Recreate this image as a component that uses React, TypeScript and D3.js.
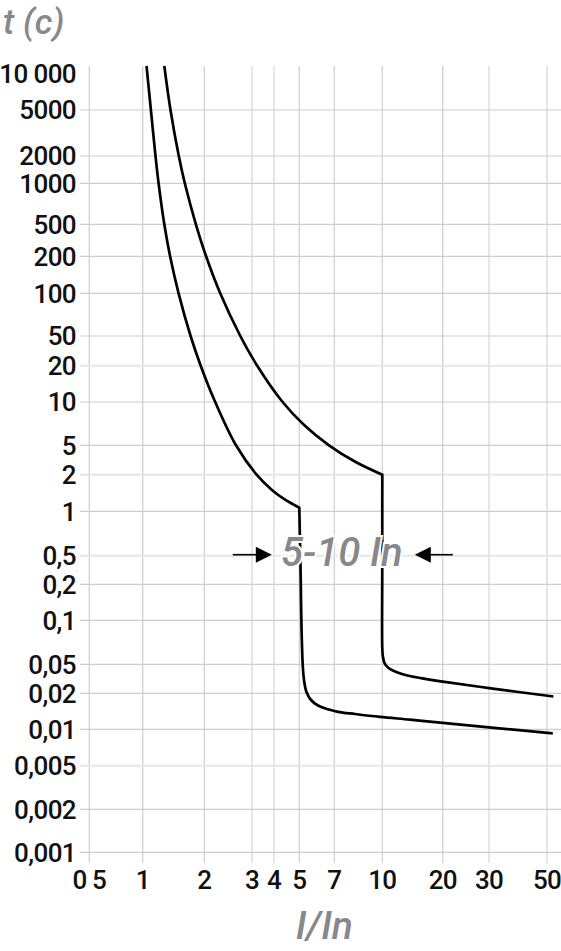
import React from 'react';
import * as d3 from 'd3';

// axis ticks (I/In and seconds)
const xTicks = [0.5, 1, 2, 3, 4, 5, 7, 10, 20, 30, 50];
const xTickLabels = ['0 5', '1', '2', '3', '4', '5', '7', '10', '20', '30', '50'];

const yTicks = [10000, 5000, 2000, 1000, 500, 200, 100, 50, 20, 10, 5, 2, 1, 0.5, 0.2, 0.1, 0.05, 0.02, 0.01, 0.005, 0.002, 0.001];
const yTickLabels = ['10 000', '5000', '2000', '1000', '500', '200', '100', '50', '20', '10', '5', '2', '1', '0,5', '0,2', '0,1', '0,05', '0,02', '0,01', '0,005', '0,002', '0,001'];

// lower limit curve, [I/In, t]
const lowerThermal: [number, number][] = [
  [1.044, 11700], [1.0966, 5000], [1.1549, 2000], [1.196, 1000], [1.2752, 500],
  [1.3611, 200], [1.4976, 100], [1.7143, 50], [1.9204, 20], [2.1944, 10],
  [2.6187, 5], [3.1858, 2], [3.8928, 1.497], [4.4236, 1.239], [5, 1.07],
];
const lowerMagnetic: [number, number][] = [
  [5, 1.07], [5.07, 0.23], [5.1, 0.1], [5.166, 0.05], [5.231, 0.03045], [5.358, 0.02084],
  [5.595, 0.01758], [5.985, 0.01581], [6.526, 0.01478], [7.195, 0.014], [8.164, 0.01342],
  [9.83, 0.0127], [13.74, 0.01205], [20, 0.01133], [30, 0.01039], [52.6, 0.00927],
];

// upper limit curve, [I/In, t]
const upperThermal: [number, number][] = [
  [1.2752, 11700], [1.3673, 5000], [1.501, 2000], [1.6062, 1000], [1.8197, 500],
  [2.0308, 200], [2.2897, 100], [2.7163, 50], [3.211, 20], [4.3152, 10],
  [5.2363, 6.92], [6.6521, 5], [8.2067, 2.97], [10, 2],
];
const upperMagnetic: [number, number][] = [
  [10, 2], [9.996, 0.3], [9.993, 0.0678], [10.057, 0.057], [10.256, 0.051], [10.676, 0.0452],
  [11.436, 0.0405], [12.536, 0.0368], [14.063, 0.034], [16.322, 0.0316], [20, 0.0289],
  [30, 0.0236], [52.9, 0.0188],
];

const xLight = [3, 4, 30, 50];
const yLight = [20, 2, 0.5, 0.005];

export default function App() {
  const width = 561;
  const height = 951;
  const frame = { left: 80, right: 561, top: 66, bottom: 863 };

  // the printed grid is a distorted log grid, so use a piecewise log scale
  const x = d3.scaleLog()
    .domain(xTicks)
    .range([89.3, 142.7, 204.3, 252, 274, 299.3, 334.3, 382.3, 442.7, 489, 547]);
  const y = d3.scaleLog()
    .domain(yTicks)
    .range([74, 110, 156, 183.3, 224.3, 256.3, 293.3, 336, 365.7, 402, 445.3, 474.7, 511.3, 555.7, 584.3, 620.3, 664.3, 693.3, 729.3, 765.7, 809.3, 852.3]);

  const line = d3.line<[number, number]>()
    .x(d => x(d[0]))
    .y(d => y(d[1]))
    .curve(d3.curveCatmullRom.alpha(0.5));

  const curvePath = (a: [number, number][], b: [number, number][]) =>
    (line(a) || '') + (line(b) || '').replace(/^M/, 'L');

  const font = "Roboto, 'DejaVu Sans', sans-serif";
  const gray = '#88888c';

  // annotation
  const cx = (x(5) + x(10)) / 2 + 1;
  const ay = y(0.5) - 1;
  const lTip = cx - 70;
  const rTip = cx + 73;

  return (
    <svg width={width} height={height} style={{ position: 'absolute', left: 0, top: 0, background: '#fff' }}>
      <g>
        {xTicks.map(v => {
          const light = xLight.includes(v);
          return (
            <line key={'vx' + v} x1={x(v)} x2={x(v)} y1={frame.top} y2={frame.bottom}
              stroke={light ? '#e6e6e6' : '#cdcdcd'} strokeWidth={light ? 2 : 1.2} />
          );
        })}
        {yTicks.slice(1).map(v => {
          const light = yLight.includes(v);
          return (
            <line key={'hy' + v} x1={frame.left} x2={frame.right} y1={y(v)} y2={y(v)}
              stroke={light ? '#e6e6e6' : '#cdcdcd'} strokeWidth={light ? 2 : 1.2} />
          );
        })}
      </g>

      <g fill="none" stroke="#000" strokeWidth={2.7} strokeLinejoin="miter">
        <path d={curvePath(lowerThermal, lowerMagnetic)} />
        <path d={curvePath(upperThermal, upperMagnetic)} />
      </g>

      <g fontFamily={font} fontSize={26} fontWeight={500} fill="#111">
        {yTicks.map((v, i) => (
          <text key={'yl' + v} x={76} y={y(v)} dy="0.36em" textAnchor="end" letterSpacing={-0.6}>
            {yTickLabels[i]}
          </text>
        ))}
        {xTicks.map((v, i) => (
          <text key={'xl' + v} x={x(v)} y={889} textAnchor="middle" letterSpacing={-0.8}>
            {xTickLabels[i]}
          </text>
        ))}
      </g>

      <g>
        <line x1={lTip - 39} x2={lTip - 15} y1={ay} y2={ay} stroke="#000" strokeWidth={1.6} />
        <path d={`M${lTip},${ay} L${lTip - 16},${ay - 8} L${lTip - 16},${ay + 8} Z`} fill="#000" />
        <line x1={rTip + 15} x2={rTip + 38} y1={ay} y2={ay} stroke="#000" strokeWidth={1.6} />
        <path d={`M${rTip},${ay} L${rTip + 16},${ay - 8} L${rTip + 16},${ay + 8} Z`} fill="#000" />
        <text x={cx} y={y(0.5) + 10.5} textAnchor="middle" fontFamily={font} fontStyle="italic"
          fontWeight={500} fontSize={40} fill={gray} stroke="#fff" strokeWidth={4}
          style={{ paintOrder: 'stroke' }}>
          5-10 In
        </text>
      </g>

      <text x={3} y={34} fontFamily={font} fontStyle="italic" fontWeight={500} fontSize={35} fill={gray}>
        t (c)
      </text>
      <text x={x(7) - 10} y={939} textAnchor="middle" fontFamily={font} fontStyle="italic"
        fontWeight={500} fontSize={39} fill={gray}>
        I/In
      </text>
    </svg>
  );
}
